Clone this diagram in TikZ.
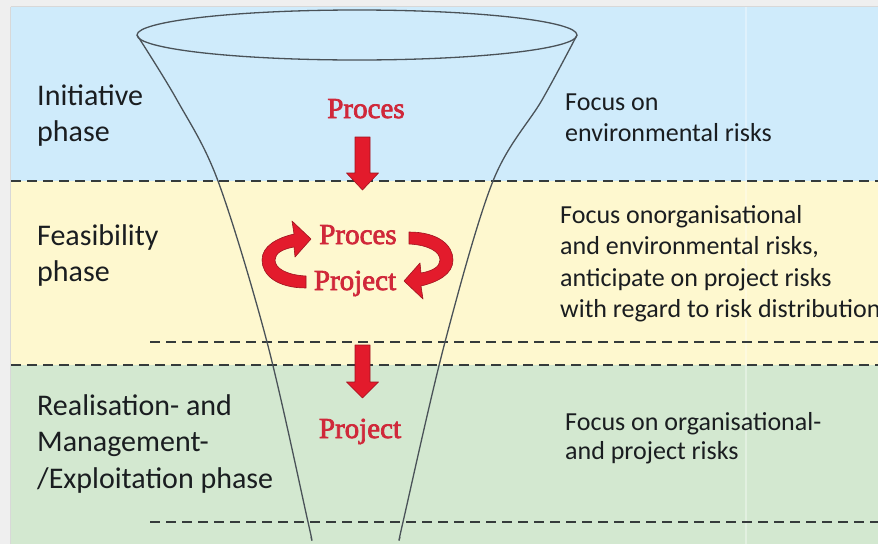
\documentclass[tikz,border=0pt]{standalone}
\usepackage{fontspec}
\setmainfont{Carlito}
\newfontfamily\redserif[FakeBold=2.5]{Liberation Serif}
\definecolor{frame}{HTML}{EFEFEF}
\definecolor{frameedge}{HTML}{D8D8D8}
\definecolor{bandblue}{HTML}{CFEBFB}
\definecolor{bandyellow}{HTML}{FEF8CF}
\definecolor{bandgreen}{HTML}{D3E8D0}
\definecolor{textdark}{HTML}{1A1D20}
\definecolor{dashgray}{HTML}{353B3B}
\definecolor{funnelgray}{HTML}{4A5258}
\definecolor{flowred}{HTML}{D0283A}
\definecolor{arrowred}{HTML}{E31B2C}
\definecolor{arrowedge}{HTML}{9E1420}
\begin{document}
\begin{tikzpicture}[x=1pt,y=-1pt,
  phase/.style={anchor=base west, inner sep=0pt, text=textdark,
    font=\fontsize{30}{36.5}\selectfont},
  focus/.style={anchor=base west, inner sep=0pt, text=textdark,
    font=\fontsize{26}{31.5}\selectfont},
  flow/.style={anchor=base, inner sep=0pt, text=flowred,
    font=\redserif\fontsize{29}{34}\selectfont},
  sep/.style={draw=dashgray, line width=2.1pt, dash pattern=on 10pt off 6pt},
  funnel/.style={draw=funnelgray, line width=1.3pt},
  blockarrow/.style={fill=arrowred, draw=arrowedge, line width=0.6pt, line join=round}]
\useasboundingbox (0,0) rectangle (878,544);

% page frame and the three phase bands
\fill[frame] (0,0) rectangle (878,544);
\fill[bandblue] (11,7) rectangle (878,181);
\fill[bandyellow] (11,181) rectangle (878,365);
\fill[bandgreen] (11,365) rectangle (878,544);
\draw[frameedge, line width=1.2pt] (10.5,6.5) -- (878,6.5);
\draw[frameedge, line width=1.2pt] (10.5,6.5) -- (10.5,544);
\draw[white, opacity=0.35, line width=1.5pt] (746,7) -- (746,544);

% phase separators
\draw[sep] (11,181) -- (878,181);
\draw[sep] (150,342) -- (878,342);
\draw[sep] (11,365) -- (878,365);
\draw[sep] (150,522) -- (878,522);

% funnel
\draw[funnel] (357,35) ellipse [x radius=220pt, y radius=25pt];
\draw[funnel] plot[smooth, tension=0.55] coordinates
  {(137,35) (177,100) (218,181) (267,342) (308,522) (311,537)};
\draw[funnel] plot[smooth, tension=0.55] coordinates
  {(577,35) (542,100) (493,181) (445,342) (403,522) (400,537)};

% straight block arrows
\path[blockarrow] (355,137) -- (370,137) -- (370,173) -- (378.5,173)
  -- (362.5,190) -- (346.5,173) -- (355,173) -- cycle;
\path[blockarrow] (355,345) -- (370,345) -- (370,382) -- (378.5,382)
  -- (362.5,398) -- (346.5,382) -- (355,382) -- cycle;

% circular block arrows between Proces and Project
\path[blockarrow] (306,288) .. controls (277,288) and (262,275) .. (262,260)
  .. controls (262,246) and (277,238) .. (294,234) -- (292,221) -- (311,239)
  -- (295,257) -- (294,247) .. controls (283,249) and (275,253) .. (275,260)
  .. controls (275,268) and (286,275) .. (306,276) -- cycle;
\begin{scope}[rotate around={180:(357.5,260)}]
\path[blockarrow] (306,288) .. controls (277,288) and (262,275) .. (262,260)
  .. controls (262,246) and (277,238) .. (294,234) -- (292,221) -- (311,239)
  -- (295,257) -- (294,247) .. controls (283,249) and (275,253) .. (275,260)
  .. controls (275,268) and (286,275) .. (306,276) -- cycle;
\end{scope}

% flow labels
\node[flow] (procesTop) at (366,118) {Proces};
\node[flow] (procesMid) at (358,244) {Proces};
\node[flow] (projectMid) at (355,290) {Project};
\node[flow] (projectLow) at (360,438) {Project};

% phase names
\node[phase] (initiative) at (37,105) {\vtop{\hbox{Initiative}\hbox{phase}}};
\node[phase] (feasibility) at (37,245) {\vtop{\hbox{Feasibility}\hbox{phase}}};
\node[phase] (realisation) at (37,415)
  {\vtop{\hbox{Realisation- and}\hbox{Management-}\hbox{/Exploitation phase}}};

% risk focus per phase
\node[focus] (focusEnv) at (565,110)
  {\vtop{\hbox{Focus on}\hbox{environmental risks}}};
\node[focus] (focusOrgEnv) at (560,223)
  {\vtop{\hbox{Focus onorganisational}\hbox{and environmental risks,}%
   \hbox{anticipate on project risks}\hbox{with regard to risk distribution}}};
\node[focus, font=\fontsize{26}{29}\selectfont] (focusOrgProj) at (565,430)
  {\vtop{\hbox{Focus on organisational-}\hbox{and project risks}}};
\end{tikzpicture}
\end{document}
